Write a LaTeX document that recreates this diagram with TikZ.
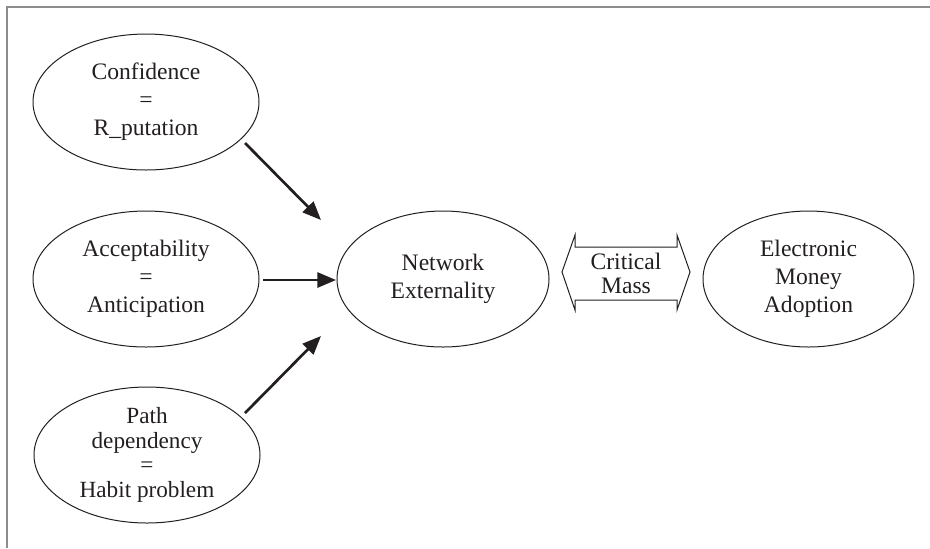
\documentclass[tikz,border=0pt]{standalone}
\usepackage{fontspec}
\setmainfont{Liberation Serif}
\usetikzlibrary{shapes.geometric,arrows.meta}
\definecolor{ink}{HTML}{231F20}
\begin{document}
\begin{tikzpicture}[x=0.5pt,y=-0.5pt,
  oval/.style={ellipse,draw=ink,line width=0.5pt,inner sep=0pt,align=center,text=ink,
    minimum width=113pt,minimum height=68pt},
  txt/.style={font=\fontsize{11.8}{14}\selectfont},
  tight/.style={font=\fontsize{11.6}{12.2}\selectfont},
  arr/.style={draw=ink,line width=1.35pt,-{Triangle[length=9.3pt,width=7.5pt]}}]
\useasboundingbox (0,0) rectangle (930,548);
% frame
\draw[gray!90,line width=1pt] (930,7) -- (7,7) -- (7,548);
% ellipses
\node[oval,txt] (conf) at (146,102) {Confidence\\=\\R\_putation};
\node[oval,txt] (acc) at (146,279) {Acceptability\\=\\Anticipation};
\node[oval,tight] (path) at (147,455) {Path\\dependency\\=\\Habit problem};
\node[oval,txt,minimum width=106pt] (net) at (443,279) {Network\\Externality};
\node[oval,txt,minimum width=105.5pt] (emo) at (808.5,279) {Electronic\\Money\\Adoption};
% critical mass double arrow
\node[txt,font=\fontsize{11.8}{12}\selectfont,text=ink,align=center,inner sep=0pt] (cm) at (626,273) {Critical\\Mass};
\draw[ink,line width=0.5pt,line join=miter]
  (562,272) -- (575,235) -- (575,247) -- (677,247) -- (677,235) -- (690,272)
  -- (677,310) -- (677,300) -- (575,300) -- (575,310) -- cycle;
% arrows
\coordinate (a1s) at (245,143); \coordinate (a1e) at (321,220);
\coordinate (a2s) at (263,280); \coordinate (a2e) at (336,280);
\coordinate (a3s) at (245,413); \coordinate (a3e) at (321,336);
\draw[arr] (a1s) -- (a1e);
\draw[arr] (a2s) -- (a2e);
\draw[arr] (a3s) -- (a3e);
\end{tikzpicture}
\end{document}
